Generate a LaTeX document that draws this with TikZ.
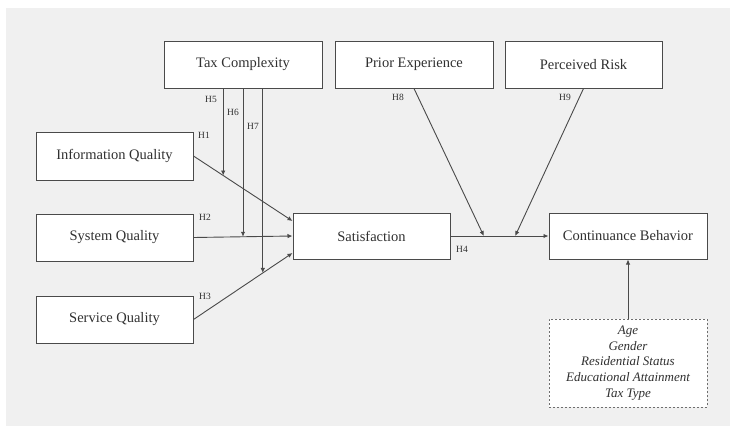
\documentclass[tikz,border=0pt]{standalone}
\usepackage{fontspec}
\setmainfont{Liberation Serif}
\usetikzlibrary{arrows.meta,calc}
\definecolor{bgc}{HTML}{F0F0F0}
\definecolor{linec}{HTML}{4A4A4A}
\definecolor{txtc}{HTML}{303030}
\begin{document}
\begin{tikzpicture}[x=1pt,y=-1pt,
  box/.style={draw=linec,fill=white,line width=1pt,minimum width=157pt,minimum height=47pt,inner sep=0pt,
    font=\fontsize{14.5}{16}\selectfont,text=txtc},
  ctrlbox/.style={draw=linec!80,fill=white,line width=1pt,dash pattern=on 2pt off 2pt,minimum width=158pt,
    minimum height=88pt,inner sep=0pt,align=center,font=\fontsize{13}{15.7}\selectfont\itshape,text=txtc},
  hyp/.style={font=\fontsize{9.5}{10}\selectfont,text=txtc,inner sep=0pt},
  conn/.style={draw=linec,line width=0.9pt},
  arr/.style={conn,-{Latex[length=5pt,width=4.5pt]}}]
\useasboundingbox (0,0) rectangle (730,426);
\fill[bgc] (6,8) rectangle (730,426);
% nodes
\node[box,minimum width=158pt] (TC) at (243,64.5) {Tax Complexity};
\node[box,minimum width=158pt] (PE) at (414,64.5) {Prior Experience};
\node[box] (PR) at (583.5,64.5) {Perceived Risk};
\node[box,minimum height=48pt] (IQ) at (114.5,156) {Information Quality};
\node[box] (SQ) at (114.5,237.5) {System Quality};
\node[box] (SvQ) at (114.5,319.5) {Service Quality};
\node[box,minimum height=46pt] (Sat) at (371.5,236) {Satisfaction};
\node[box,minimum width=158pt,minimum height=46pt] (CB) at (628,236) {Continuance Behavior};
\node[ctrlbox] (Ctrl) at (628,363) {Age\\Gender\\Residential Status\\Educational Attainment\\Tax Type};
% target points
\coordinate (s1) at ($(Sat.west)+(0,-15)$);
\coordinate (s2) at (Sat.west);
\coordinate (s3) at ($(Sat.west)+(0,17)$);
\draw[arr] (IQ.east) -- (s1);
\draw[arr] (SQ.east) -- (s2);
\draw[arr] (SvQ.east) -- (s3);
\coordinate (m5) at ($(IQ.east)!0.3!(s1)$);
\coordinate (m6) at ($(SQ.east)!0.5!(s2)$);
\coordinate (m7) at ($(SvQ.east)!0.7!(s3)$);
\draw[arr] (m5 |- TC.south) -- (m5);
\draw[arr] (m6 |- TC.south) -- (m6);
\draw[arr] (m7 |- TC.south) -- (m7);
\draw[arr] (Sat.east) -- (CB.west);
\coordinate (m8) at ($(Sat.east)!0.34!(CB.west)$);
\coordinate (m9) at ($(Sat.east)!0.66!(CB.west)$);
\draw[arr] (PE.south) -- (m8);
\draw[arr] (PR.south) -- (m9);
\draw[arr] (Ctrl.north) -- (CB.south);
% labels
\node[hyp] (h1) at (204,135) {H1};
\node[hyp] (h2) at (205,217) {H2};
\node[hyp] (h3) at (205,296) {H3};
\node[hyp] (h4) at (462,249) {H4};
\node[hyp] (h5) at (211,99) {H5};
\node[hyp] (h6) at (233,112) {H6};
\node[hyp] (h7) at (253,126) {H7};
\node[hyp] (h8) at (398,97) {H8};
\node[hyp] (h9) at (565,97) {H9};
\end{tikzpicture}
\end{document}
